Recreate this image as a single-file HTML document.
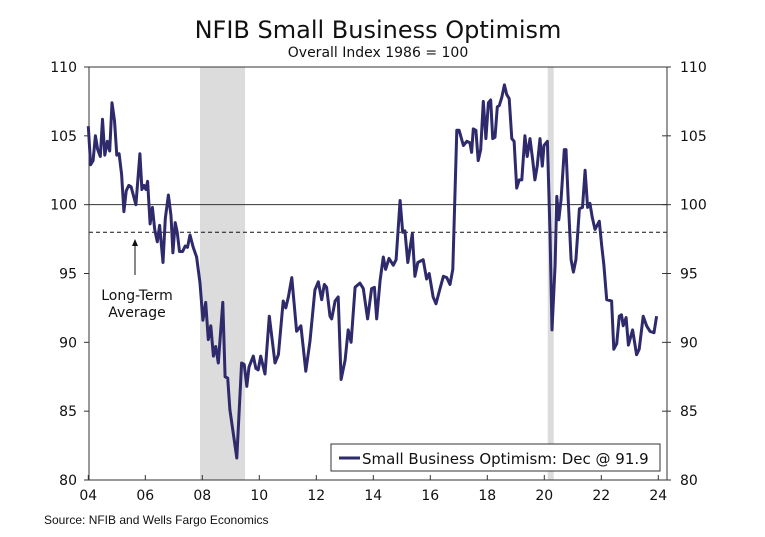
<!DOCTYPE html>
<html><head><meta charset="utf-8"><style>
body{margin:0;background:#fff;}
svg text{font-family:"DejaVu Sans","Liberation Sans",sans-serif;fill:#111;}
</style></head><body>
<svg id="chart" width="765" height="532" viewBox="0 0 765 532" xmlns="http://www.w3.org/2000/svg">
<text x="378" y="38" font-size="24" text-anchor="middle">NFIB Small Business Optimism</text>
<text x="378" y="57" font-size="14" text-anchor="middle">Overall Index 1986 = 100</text>
<g id="shading"></g>
<g id="grid"></g>
<g id="axes"></g>
<g id="series"></g>
<text x="44" y="524" font-size="12" style="font-family:'Liberation Sans',sans-serif">Source: NFIB and Wells Fargo Economics</text>
<g>
<line x1="135" y1="275" x2="135" y2="242" stroke="#111" stroke-width="1"/>
<path d="M132,246 L135,239 L138,246 Z" fill="#111"/>
<text x="137" y="300" font-size="14" text-anchor="middle">Long-Term</text>
<text x="137" y="317" font-size="14" text-anchor="middle">Average</text>
</g>
<g>
<rect x="331" y="444" width="329" height="27" fill="#fff" stroke="#333" stroke-width="1"/>
<line x1="339" y1="458" x2="360" y2="458" stroke="#2e2a6b" stroke-width="3"/>
<text x="362" y="464" font-size="15">Small Business Optimism: Dec @ 91.9</text>
</g>
</svg>
<script>
const dates=[2004.00,2004.08,2004.17,2004.25,2004.33,2004.42,2004.50,2004.58,2004.67,2004.75,2004.83,2004.92,
2005.00,2005.08,2005.17,2005.25,2005.33,2005.42,2005.50,2005.58,2005.67,2005.81,2005.88,2005.95,
2006.02,2006.08,2006.17,2006.25,2006.33,2006.42,2006.50,2006.62,2006.70,2006.81,2006.90,2006.97,
2007.05,2007.12,2007.20,2007.31,2007.40,2007.48,2007.57,2007.68,2007.80,2007.92,2008.02,2008.12,2008.21,2008.30,2008.39,2008.47,2008.56,2008.72,2008.80,2008.89,2008.97,2009.21,2009.38,2009.47,2009.56,2009.64,2009.79,2009.88,2009.96,2010.05,2010.20,2010.35,2010.55,2010.67,2010.84,2010.93,2011.02,2011.14,2011.31,2011.46,2011.63,2011.78,2011.95,2012.07,2012.19,2012.28,2012.36,2012.48,2012.54,2012.66,2012.77,2012.87,2013.01,2013.12,2013.22,2013.36,2013.53,2013.65,2013.80,2013.94,2014.04,2014.12,2014.24,2014.35,2014.43,2014.55,2014.70,2014.80,2014.94,2015.03,2015.11,2015.21,2015.37,2015.46,2015.56,2015.75,2015.87,2015.96,2016.10,2016.20,2016.34,2016.46,2016.58,2016.69,2016.79,2016.93,2017.01,2017.16,2017.28,2017.39,2017.45,2017.51,2017.60,2017.68,2017.77,2017.86,2017.95,2018.04,2018.12,2018.19,2018.27,2018.35,2018.42,2018.51,2018.60,2018.68,2018.77,2018.86,2018.94,2019.03,2019.12,2019.21,2019.32,2019.40,2019.50,2019.59,2019.67,2019.75,2019.85,2019.93,2019.99,2020.11,2020.20,2020.27,2020.38,2020.44,2020.51,2020.59,2020.70,2020.76,2020.84,2020.94,2021.02,2021.11,2021.23,2021.34,2021.43,2021.52,2021.60,2021.68,2021.78,2021.93,2022.01,2022.09,2022.19,2022.36,2022.44,2022.54,2022.63,2022.71,2022.77,2022.87,2022.95,2023.10,2023.24,2023.33,2023.47,2023.59,2023.71,2023.85,2023.94];
const values=[105.7,102.9,103.2,105.0,104.0,103.5,106.2,103.6,104.6,103.9,107.4,106.1,
103.6,103.7,102.2,99.5,101.0,101.4,101.3,100.7,100.0,103.7,101.1,101.4,
101.1,101.7,98.6,99.8,98.2,97.3,98.5,95.8,99.0,100.7,99.2,96.5,
98.7,98.0,96.6,96.6,97.0,96.9,97.8,96.9,96.2,94.3,91.6,92.9,90.2,91.2,89.0,89.7,88.5,92.9,87.5,87.4,85.1,81.6,88.5,88.4,86.8,88.2,89.0,88.1,88.0,89.0,87.7,91.9,88.5,89.1,93.0,92.5,93.3,94.7,90.8,91.2,87.9,90.1,93.8,94.4,93.1,94.2,94.0,91.9,91.7,93.0,93.3,87.3,88.7,90.9,90.0,94.0,94.3,93.9,91.7,93.9,94.0,91.7,94.5,96.2,95.3,96.1,95.6,96.0,100.3,98.0,98.1,95.8,97.9,94.8,95.8,96.0,94.6,95.0,93.3,92.8,93.9,94.8,94.7,94.2,95.3,105.4,105.4,104.3,104.6,104.5,103.8,105.5,105.4,103.2,104.0,107.5,104.8,107.4,107.6,104.8,104.9,107.1,107.2,107.8,108.7,108.0,107.7,104.8,104.6,101.2,101.8,101.8,105.0,103.5,104.8,103.3,101.8,102.8,104.8,102.8,104.3,104.6,98.0,90.9,95.6,100.6,98.9,100.4,104.0,104.0,100.4,96.0,95.1,96.0,99.7,99.8,102.5,99.8,100.1,99.1,98.2,98.8,97.1,95.6,93.1,93.0,89.5,89.9,91.9,92.0,91.2,91.8,89.8,90.9,89.1,89.5,91.9,91.2,90.8,90.7,91.9];
const recessionStarts=[2007.92,2020.12];
const recessionEnds=[2009.50,2020.33];
const yTicks=[80,85,90,95,100,105,110];
const xTicks=[2004,2006,2008,2010,2012,2014,2016,2018,2020,2022,2024];
const xTickLabels=["04","06","08","10","12","14","16","18","20","22","24"];
const longTermAverage=98;

const NS="http://www.w3.org/2000/svg";
const L=89,R=667,T=67,B=480;
const xs=t=>88.3+(t-2004)*28.5;
const ys=v=>B-(v-80)*(B-T)/30;
function mk(tag,attrs,parent){const e=document.createElementNS(NS,tag);for(const k in attrs)e.setAttribute(k,attrs[k]);parent.appendChild(e);return e;}
const sh=document.getElementById('shading'),gr=document.getElementById('grid'),ax=document.getElementById('axes'),se=document.getElementById('series');
for(let i=0;i<recessionStarts.length;i++){
 const r=mk('rect',{x:xs(recessionStarts[i]),y:T,width:xs(recessionEnds[i])-xs(recessionStarts[i]),height:B-T,fill:'#dcdcdc'},sh);
 
 
}
const l100=mk('line',{x1:L,x2:R,y1:ys(100),y2:ys(100),stroke:'#333','stroke-width':1},gr);


const avg=mk('line',{x1:L,x2:R,y1:ys(longTermAverage),y2:ys(longTermAverage),stroke:'#111','stroke-width':1,'stroke-dasharray':'4,3'},gr);


const frame=mk('rect',{x:L,y:T,width:R-L,height:B-T,fill:'none',stroke:'#333','stroke-width':1},ax);


yTicks.forEach(v=>{
 const y=ys(v);
 mk('line',{x1:L-5,x2:L,y1:y,y2:y,stroke:'#333'},ax);
 mk('line',{x1:R-5,x2:R+4,y1:y,y2:y,stroke:'#333'},ax);
 const a=mk('text',{x:L-12,y:y+5,'font-size':14,'text-anchor':'end'},ax);a.textContent=v;
 
 
 const b=mk('text',{x:R+13,y:y+5,'font-size':14},ax);b.textContent=v;
 
 
});
xTicks.forEach((t,i)=>{
 const x=xs(t);
 mk('line',{x1:x,x2:x,y1:B-5,y2:B,stroke:'#333'},ax);
 const a=mk('text',{x:x,y:B+20,'font-size':14,'text-anchor':'middle'},ax);a.textContent=xTickLabels[i];
 
 
});
const pts=dates.map((d,i)=>xs(d).toFixed(1)+','+ys(values[i]).toFixed(1)).join(' ');
const pl=mk('polyline',{points:pts,fill:'none',stroke:'#2e2a6b','stroke-width':3,'stroke-linejoin':'round'},se);


</script>
</body></html>
